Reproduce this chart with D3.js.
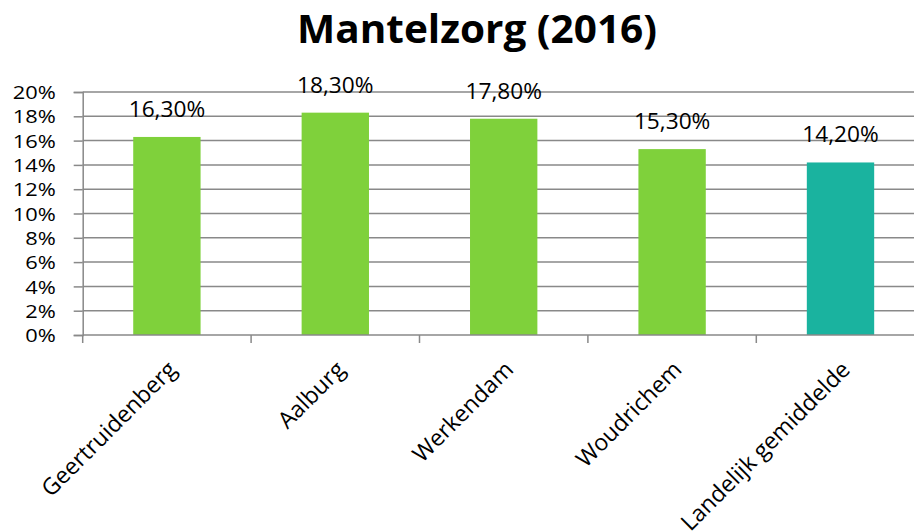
<!DOCTYPE html>
<html>
<head>
<meta charset="utf-8">
<script src="https://cdn.jsdelivr.net/npm/d3@7"></script>
<style>
  html, body { margin: 0; padding: 0; background: #fff; }
  svg { display: block; }
  text { font-family: "Open Sans", "Noto Sans", sans-serif; fill: #000; }
</style>
</head>
<body>
<svg id="chart" width="914" height="531"></svg>
<script>
const title = "Mantelzorg (2016)";
const categories = ["Geertruidenberg", "Aalburg", "Werkendam", "Woudrichem", "Landelijk gemiddelde"];
const values = [16.3, 18.3, 17.8, 15.3, 14.2];
const barColors = ["#7fd13b", "#7fd13b", "#7fd13b", "#7fd13b", "#1ab39f"];
const yTicks = [0, 2, 4, 6, 8, 10, 12, 14, 16, 18, 20];

const svg = d3.select("#chart");
const plotLeft = 82.7, plotRight = 924.7, plotTop = 92, plotBottom = 335;

const x = d3.scaleBand().domain(categories).range([plotLeft, plotRight])
  .paddingInner(0.6).paddingOuter(0.3);
const xEdge = d3.scaleBand().domain(categories).range([plotLeft, plotRight]).padding(0);
const y = d3.scaleLinear().domain([0, 20]).range([plotBottom, plotTop]);

const fmt = v => v.toFixed(2).replace(".", ",") + "%";

// title
svg.append("text")
  .attr("x", 477).attr("y", 43)
  .attr("text-anchor", "middle")
  .attr("font-size", 39).attr("font-weight", 700)
  .attr("textLength", 360).attr("lengthAdjust", "spacingAndGlyphs")
  .text(title);

// gridlines
svg.append("g").selectAll("line").data(yTicks.filter(d => d > 0)).join("line")
  .attr("x1", plotLeft).attr("x2", 914)
  .attr("y1", d => y(d)).attr("y2", d => y(d))
  .attr("stroke", "#898989").attr("stroke-width", 1.5);

// y axis
const yAxis = svg.append("g").attr("transform", `translate(${plotLeft},0)`)
  .call(d3.axisLeft(y).tickValues(yTicks).tickSize(9).tickFormat(d => d + "%"));
yAxis.select(".domain").attr("stroke", "#898989").attr("stroke-width", 1.5);
yAxis.selectAll(".tick line").attr("stroke", "#898989").attr("stroke-width", 1.5);
yAxis.selectAll(".tick text").attr("font-size", 19).attr("x", 0).attr("dy", "0.35em")
  .attr("font-family", "Open Sans").attr("fill", "#000")
  .attr("transform", "translate(-27,0) scale(1.15,1)");

// bars
svg.append("g").selectAll("rect").data(values).join("rect")
  .attr("x", (d, i) => x(categories[i]))
  .attr("width", x.bandwidth())
  .attr("y", d => y(d))
  .attr("height", d => y(0) - y(d))
  .attr("fill", (d, i) => barColors[i]);

// x axis
const xAxisG = svg.append("g").attr("transform", `translate(0,${plotBottom})`);
xAxisG.append("line").attr("x1", plotLeft).attr("x2", 914)
  .attr("stroke", "#898989").attr("stroke-width", 1.5);
const edges = categories.map(c => xEdge(c));
xAxisG.selectAll("line.tk").data(edges).join("line").attr("class", "tk")
  .attr("x1", d => d).attr("x2", d => d).attr("y1", 0).attr("y2", 8)
  .attr("stroke", "#898989").attr("stroke-width", 1.5);

// category labels
svg.append("g").selectAll("text").data(categories).join("text")
  .attr("text-anchor", "end")
  .attr("font-size", 23)
  .attr("transform", d => `translate(${x(d) + x.bandwidth() / 2 + 11},371) rotate(-45)`)
  .text(d => d);

// data labels
svg.append("g").selectAll("text").data(values).join("text")
  .attr("text-anchor", "middle")
  .attr("font-size", 21)
  .attr("transform", (d, i) => `translate(${x(categories[i]) + x.bandwidth() / 2},${y(d) - 20}) scale(1.08,1)`)
  .text(d => fmt(d));
</script>
</body>
</html>
